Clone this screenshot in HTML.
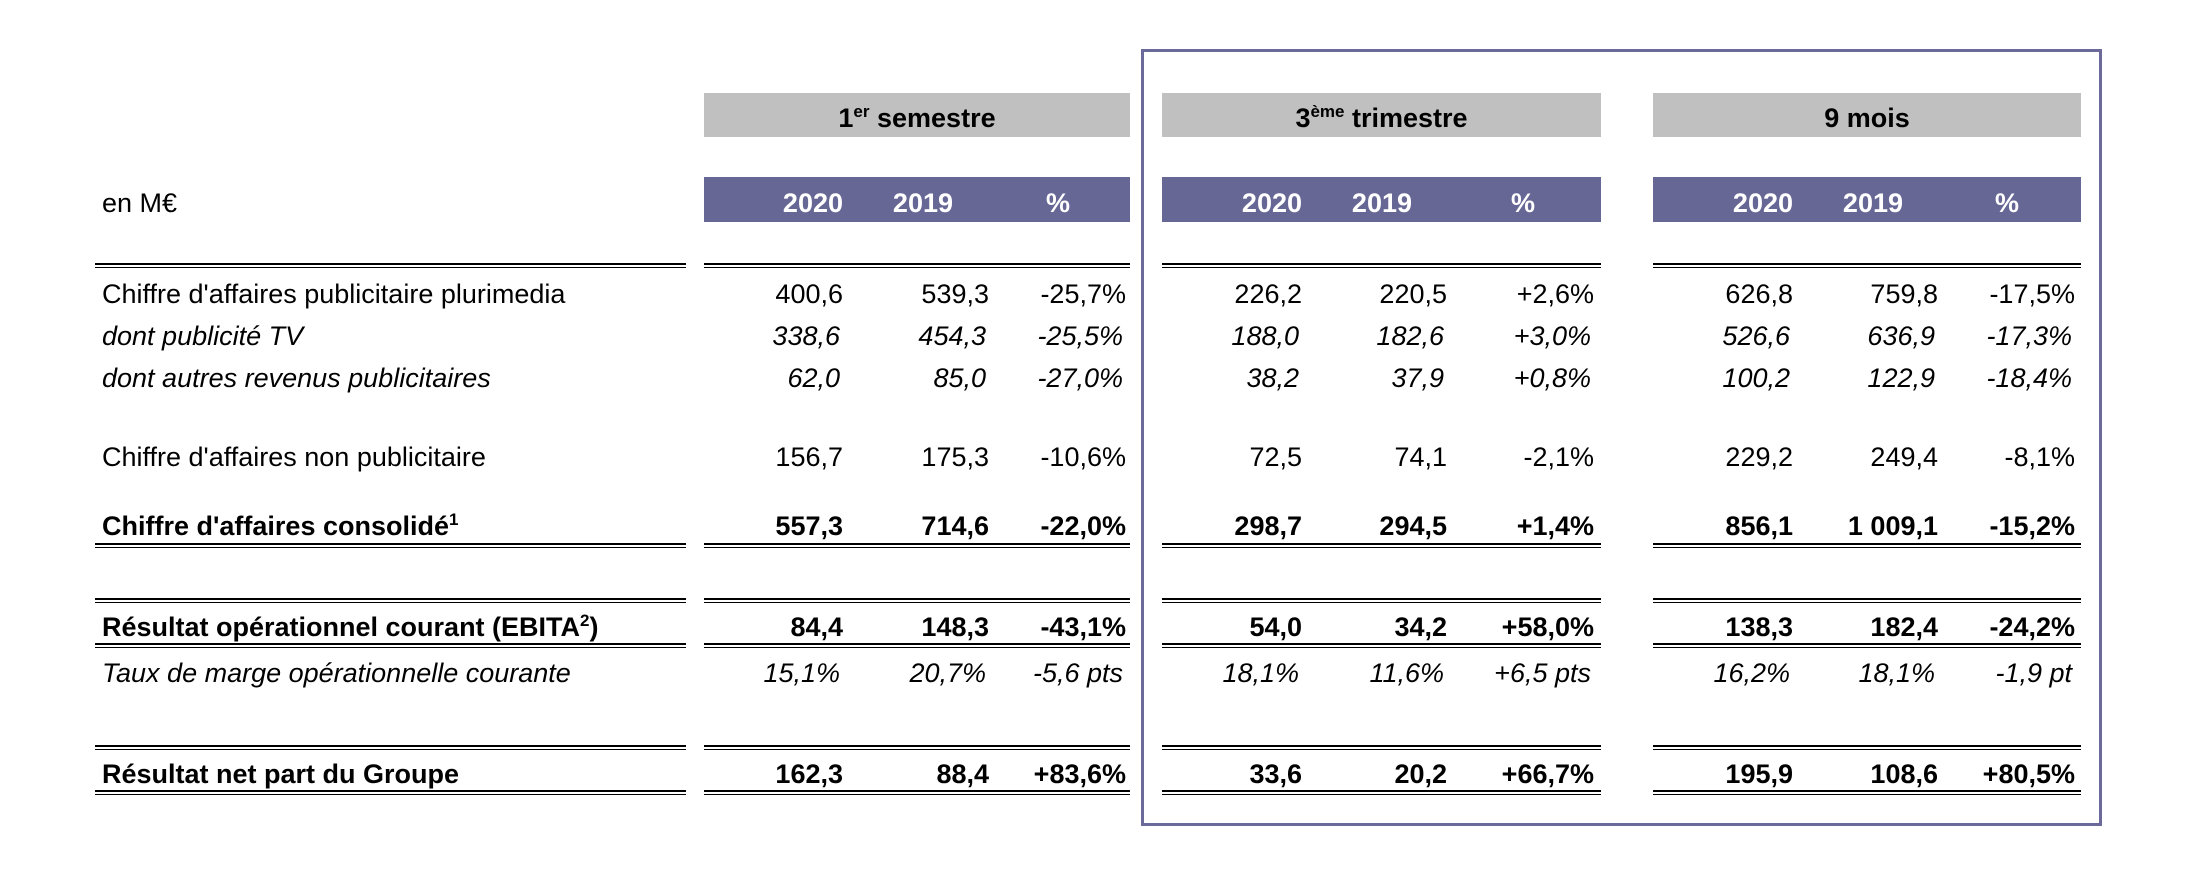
<!DOCTYPE html>
<html><head><meta charset="utf-8"><style>
body{margin:0;width:2196px;height:874px;background:#fff;position:relative;overflow:hidden;font-family:"Liberation Sans",Arial,sans-serif;font-size:27px;color:#000}
div{position:absolute}
.t{line-height:30px;white-space:nowrap}
.dl{height:2px;border-top:2px solid #000;border-bottom:1px solid #000}
.gray{background:#c0c0c0;top:93px;height:44px;font-weight:bold;text-align:center;line-height:50px;font-size:27px}
.pur{background:#676796;top:177px;height:45px;color:#fff;font-weight:bold}
.i{font-style:italic}.b{font-weight:bold}
sup{font-size:17px;line-height:0;vertical-align:10px}
</style></head><body>
<div style="left:1141px;top:49px;width:955px;height:771px;border:3px solid #6b6a9a"></div>

<div class="gray" style="left:704px;width:426px">1<sup>er</sup> semestre</div>
<div class="gray" style="left:1162px;width:439px">3<sup>ème</sup> trimestre</div>
<div class="gray" style="left:1653px;width:428px">9 mois</div>

<div class="pur" style="left:704px;width:426px"></div>
<div class="pur" style="left:1162px;width:439px"></div>
<div class="pur" style="left:1653px;width:428px"></div>

<div class="t" style="left:102px;top:188px">en M€</div>
<div id="c"></div>
<script>
var H='';
function T(x,y,s,cls,right,extra){H+='<div class="t '+(cls||'')+'" style="'+(extra||'')+(right?'right:'+(2196-x)+'px':'left:'+x+'px')+';top:'+(y-15)+'px">'+s+'</div>';}
var hdr=[[843,953,1070],[1302,1412,1535],[1793,1903,2019]];
hdr.forEach(function(a){
 T(a[0],203,'2020','b',true,'color:#fff;');
 T(a[1],203,'2019','b',true,'color:#fff;');
 T(a[2],203,'%','b',true,'color:#fff;');
});
var segs=[[95,686],[704,1130],[1162,1601],[1653,2081]];
[263,543,598,643,745,790].forEach(function(y){segs.forEach(function(s){H+='<div class="dl" style="left:'+s[0]+'px;width:'+(s[1]-s[0])+'px;top:'+y+'px"></div>';});});
var cols=[843,989,1126,1302,1447,1594,1793,1938,2075];
var rows=[
[294,'',"Chiffre d'affaires publicitaire plurimedia",['400,6','539,3','-25,7%','226,2','220,5','+2,6%','626,8','759,8','-17,5%']],
[336,'i',"dont publicité TV",['338,6','454,3','-25,5%','188,0','182,6','+3,0%','526,6','636,9','-17,3%']],
[378,'i',"dont autres revenus publicitaires",['62,0','85,0','-27,0%','38,2','37,9','+0,8%','100,2','122,9','-18,4%']],
[457,'',"Chiffre d'affaires non publicitaire",['156,7','175,3','-10,6%','72,5','74,1','-2,1%','229,2','249,4','-8,1%']],
[526,'b',"Chiffre d'affaires consolidé<sup>1</sup>",['557,3','714,6','-22,0%','298,7','294,5','+1,4%','856,1','1 009,1','-15,2%']],
[627,'b',"Résultat opérationnel courant (EBITA<sup>2</sup>)",['84,4','148,3','-43,1%','54,0','34,2','+58,0%','138,3','182,4','-24,2%']],
[673,'i',"Taux de marge opérationnelle courante",['15,1%','20,7%','-5,6 pts','18,1%','11,6%','+6,5 pts','16,2%','18,1%','-1,9 pt']],
[774,'b',"Résultat net part du Groupe",['162,3','88,4','+83,6%','33,6','20,2','+66,7%','195,9','108,6','+80,5%']]
];
rows.forEach(function(r){
 T(102,r[0],r[2],r[1],false);
 r[3].forEach(function(v,k){T(cols[k]-(r[1]=='i'?3:0),r[0],v,r[1],true);});
});
document.getElementById('c').outerHTML=H;
</script>
</body></html>
